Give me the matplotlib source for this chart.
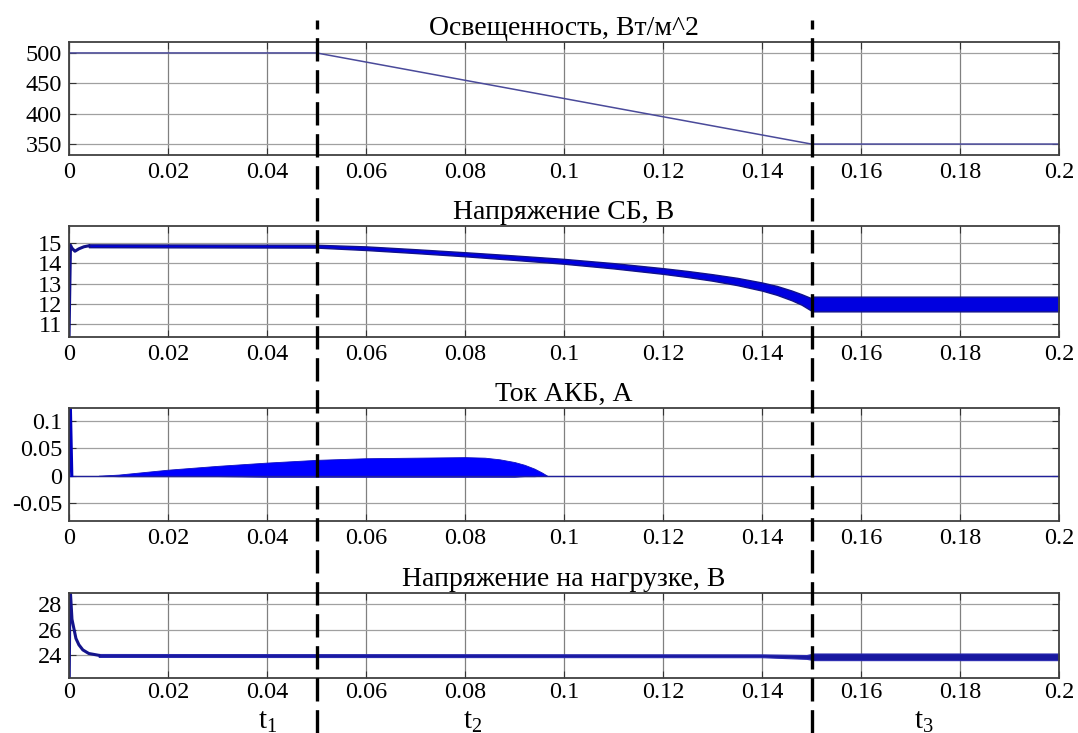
import numpy as np
import matplotlib
matplotlib.use("Agg")
import matplotlib.pyplot as plt

plt.rcParams["font.family"] = ["Liberation Serif", "DejaVu Serif"]
plt.rcParams["mathtext.fontset"] = "custom"
plt.rcParams["mathtext.rm"] = "Liberation Serif"
plt.rcParams["mathtext.it"] = "Liberation Serif"
plt.rcParams["axes.unicode_minus"] = False

# ---- данные ----
# панель 1: освещенность
t_irr = [0.0, 0.05, 0.15, 0.2]
irr = [500, 500, 350, 350]

# панель 2: напряжение СБ (старт + полоса пульсаций)
t_sb_start = [0.0, 0.0003, 0.0006, 0.0012, 0.002, 0.003, 0.004]
v_sb_start = [10.3, 14.9, 14.75, 14.6, 14.72, 14.82, 14.87]
t_sb = [0.004, 0.05, 0.06, 0.07, 0.08, 0.09, 0.1, 0.11, 0.12, 0.125, 0.13,
        0.135, 0.14, 0.143, 0.146, 0.148, 0.15, 0.1502, 0.2]
v_sb_hi = [14.94, 14.92, 14.84, 14.70, 14.55, 14.39, 14.22, 14.01, 13.76, 13.62, 13.46,
           13.28, 13.05, 12.88, 12.65, 12.47, 12.27, 12.35, 12.35]
v_sb_lo = [14.80, 14.78, 14.66, 14.51, 14.35, 14.17, 13.98, 13.75, 13.48, 13.32, 13.14,
           12.92, 12.65, 12.44, 12.17, 11.95, 11.65, 11.62, 11.62]

# панель 3: ток АКБ
t_akb_spike = [0.0, 0.0003, 0.0006]
i_akb_spike = [0.0, 0.13, 0.0]
t_akb = [0.006, 0.01, 0.02, 0.03, 0.04, 0.05, 0.06, 0.07, 0.08, 0.084, 0.087,
         0.09, 0.092, 0.094, 0.0955, 0.0966]
i_akb_hi = [0.0, 0.002, 0.011, 0.018, 0.024, 0.029, 0.032, 0.033, 0.034, 0.033, 0.030,
            0.025, 0.020, 0.013, 0.006, 0.0]
i_akb_lo = [0.0, -0.001, -0.001, -0.001, -0.002, -0.002, -0.002, -0.002, -0.002, -0.002, -0.002,
            -0.002, -0.001, -0.001, 0.0, 0.0]
t_akb_zero = [0.0, 0.2]
i_akb_zero = [0.0, 0.0]

# панель 4: напряжение на нагрузке
t_load_start = [0.0, 0.0002, 0.0006, 0.0014, 0.002, 0.0028, 0.004, 0.006]
v_load_start = [20.0, 29.5, 26.8, 25.3, 24.8, 24.4, 24.12, 23.98]
t_load = [0.006, 0.14, 0.149, 0.1505, 0.2]
v_load_hi = [24.08, 24.05, 24.0, 24.12, 24.12]
v_load_lo = [23.85, 23.83, 23.7, 23.6, 23.6]

titles = ["Освещенность, Вт/м^2", "Напряжение СБ, В", "Ток АКБ, А", "Напряжение на нагрузке, В"]
x_ticks = [0, 0.02, 0.04, 0.06, 0.08, 0.1, 0.12, 0.14, 0.16, 0.18, 0.2]
x_ticklabels = ["0", "0.02", "0.04", "0.06", "0.08", "0.1", "0.12", "0.14", "0.16", "0.18", "0.2"]
y_ticks = [[350, 400, 450, 500], [11, 12, 13, 14, 15], [-0.05, 0, 0.05, 0.1], [24, 26, 28]]
y_ticklabels = [["350", "400", "450", "500"], ["11", "12", "13", "14", "15"],
                ["-0.05", "0", "0.05", "0.1"], ["24", "26", "28"]]
y_lims = [(332, 518), (10.35, 15.85), (-0.083, 0.124), (22.2, 28.86)]

t_marks = [0.05, 0.15]
phase_x = [0.0402, 0.0815, 0.1728]
phase_labels = [r"$\mathrm{t}_1$", r"$\mathrm{t}_2$", r"$\mathrm{t}_3$"]

W, H = 1078, 733
fig = plt.figure(figsize=(W / 100, H / 100), dpi=100)

L, R = 69, 1059
boxes = [(42, 155), (226, 337), (408, 521), (593, 678)]  # верх/низ в пикселях
axes = []
for (top, bot) in boxes:
    ax = fig.add_axes([L / W, (H - bot) / H, (R - L) / W, (bot - top) / H])
    axes.append(ax)

for i, ax in enumerate(axes):
    ax.set_xlim(0, 0.2)
    ax.set_ylim(*y_lims[i])
    ax.set_xticks(x_ticks)
    ax.set_xticklabels(x_ticklabels)
    ax.set_yticks(y_ticks[i])
    ax.set_yticklabels(y_ticklabels[i])
    ax.tick_params(direction="in", length=5, width=0.8, labelsize=17.5,
                   top=True, right=True, pad=5, colors="#333333", labelcolor="black")
    ax.xaxis.grid(True, color="#808080", lw=0.9)
    ax.yaxis.grid(True, color="#a0a0a0", lw=0.9)
    ax.set_axisbelow(True)
    for s in ax.spines.values():
        s.set_color("#404040")
        s.set_linewidth(1.3)
    ax.set_title(titles[i], fontsize=20, pad=5)

# нижняя панель: подписи чуть ближе к оси, чтобы t1..t3 поместились
axes[3].tick_params(axis="x", pad=3)

# 1
axes[0].plot(t_irr, irr, color="#4a4a9a", lw=1.1)

# 2
axes[1].plot(t_sb_start, v_sb_start, color="#10108a", lw=2.2)
axes[1].fill_between(t_sb, v_sb_lo, v_sb_hi, facecolor="#0000e0", edgecolor="#12128a", lw=1.0)

# 3
axes[2].plot(t_akb_zero, i_akb_zero, color="#20209a", lw=1.0)
axes[2].plot(t_akb_spike, i_akb_spike, color="#0000c0", lw=2.0)
axes[2].fill_between(t_akb, i_akb_lo, i_akb_hi, facecolor="#0000ff", edgecolor="#1010c0", lw=0.6)

# 4
axes[3].plot(t_load_start, v_load_start, color="#14148c", lw=2.2)
axes[3].fill_between(t_load, v_load_lo, v_load_hi, facecolor="#1818a0", edgecolor="#2a2ab0", lw=0.8)

# пунктирные границы интервалов поверх всех панелей
ov = fig.add_axes([L / W, 0, (R - L) / W, (H - 20) / H])
ov.set_xlim(0, 0.2)
ov.set_ylim(0, 1)
ov.axis("off")
ov.patch.set_alpha(0)
for tm in t_marks:
    ov.axvline(tm, ymin=0, ymax=1, color="black", lw=2.4, linestyle=(0, (7, 2.6)))
for xp, lab in zip(phase_x, phase_labels):
    ov.text(xp, -2 / (H - 20), lab, fontsize=21, ha="center", va="bottom")

fig.savefig("out.png", dpi=100)
